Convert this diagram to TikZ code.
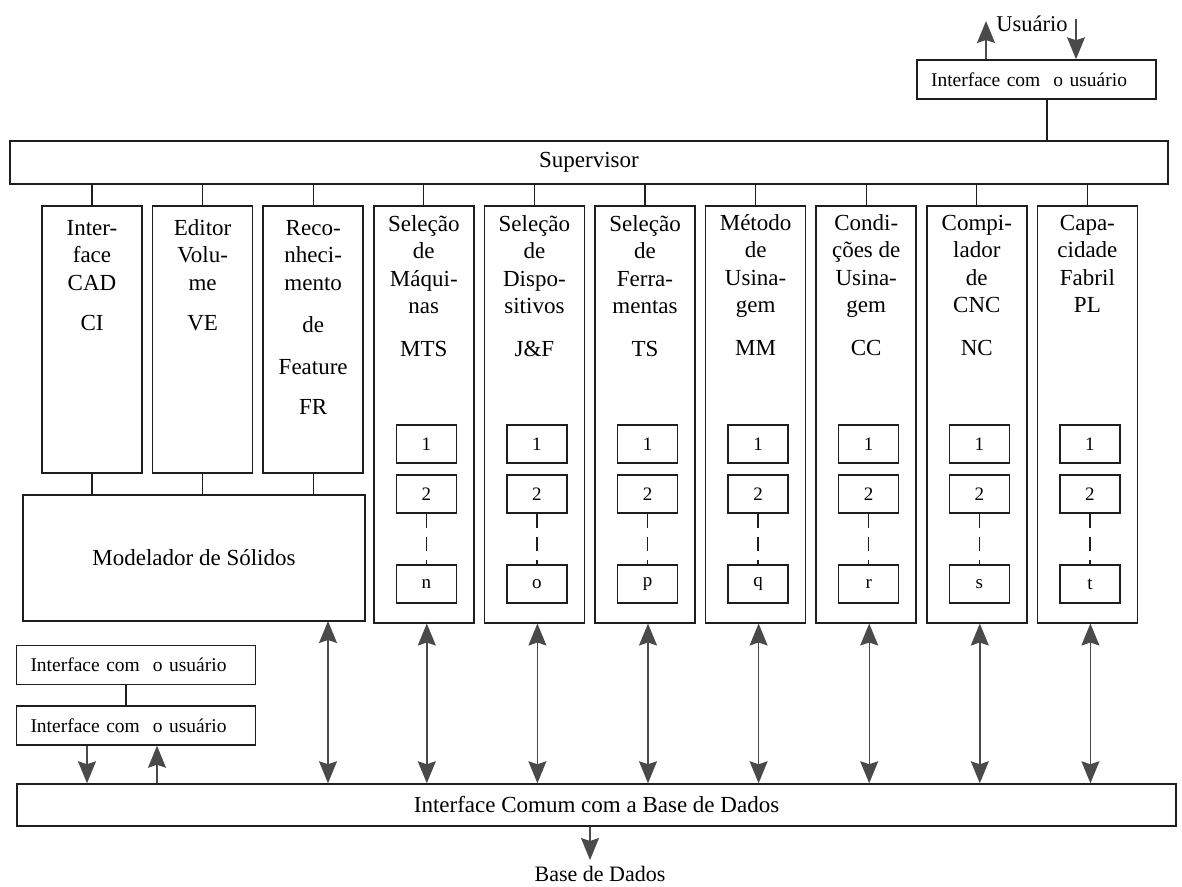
\documentclass[tikz,border=0pt]{standalone}
\usepackage{fontspec}
\setmainfont{Liberation Serif}
\usetikzlibrary{arrows.meta}
\definecolor{ink}{HTML}{1E1E1E}
\definecolor{tipgray}{HTML}{4A4A4A}
\begin{document}
\begin{tikzpicture}[x=1pt,y=-1pt,
  box/.style={draw=ink, line width=1.5pt, inner sep=0pt},
  big/.style={font=\fontsize{23}{27.5}\selectfont, inner sep=0pt},
  uibox/.style={box, font=\fontsize{19.5}{22}\selectfont, text width=211pt,
    align=left, inner xsep=14pt, minimum height=39pt},
  cell/.style={draw=ink, line width=1.3pt, minimum width=60pt, minimum height=38pt,
    inner sep=0pt, font=\fontsize{19}{21}\selectfont},
  link/.style={draw=ink, line width=1.3pt},
  dots/.style={draw=ink, line width=1.3pt, dash pattern=on 14pt off 9pt},
  tip/.style={Stealth[length=22pt, width=18pt, inset=3pt, fill=tipgray]},
  arr/.style={draw=tipgray, line width=1.4pt, -{Stealth[length=22pt, width=18pt, inset=3pt, fill=tipgray]}},
  biarrow/.style={draw=tipgray, line width=1.4pt,
    {Stealth[length=22pt, width=18pt, inset=3pt, fill=tipgray]}-{Stealth[length=22pt, width=18pt, inset=3pt, fill=tipgray]}}
]
\useasboundingbox (0,0) rectangle (1182,886);

% main bars
\node[box, big, minimum width=1158pt, minimum height=43pt] (sup) at (589,162.5) {Supervisor};
\node[box, big, minimum width=1159pt, minimum height=42pt] (db) at (596.5,805) {Interface Comum com a Base de Dados};

% user interface at the top
\node[uibox] (ui) at (1036.5,79.5) {Interface com\ \ o usuário};
\node[big, font=\fontsize{22.5}{25}\selectfont] (usr) at (1032,24) {Usuário};
\coordinate (uiout) at (986,21);
\coordinate (uiin) at (1076,19);
\draw[arr] (ui.north -| uiout) -- (uiout);
\draw[arr] (uiin) -- (ui.north -| uiin);
\coordinate (uisup) at (1047,99);
\draw[link] (ui.south -| uisup) -- (sup.north -| uisup);

% geometry modules
\node[box, minimum width=100pt, minimum height=267pt, anchor=north] (ci) at (92,205) {};
\node[box, minimum width=100pt, minimum height=267pt, anchor=north] (ve) at (202.6,205) {};
\node[box, minimum width=100pt, minimum height=267pt, anchor=north] (fr) at (313.2,205) {};
\node[box, big, minimum width=342pt, minimum height=126pt] (mod) at (194,558) {Modelador de Sólidos};
\foreach \c in {ci,ve,fr}{
  \draw[link] (\c.north |- sup.south) -- (\c.north);
  \draw[link] (\c.south) -- (\c.south |- mod.north);
}
\foreach \s [count=\k] in {Inter-,face,CAD}
  \node[big, anchor=base] (ci-\k) at (92,{235+27.5*(\k-1)}) {\s};
\node[big, anchor=base] (ci-ab) at (92,330) {CI};
\foreach \s [count=\k] in {Editor,Volu-,me}
  \node[big, anchor=base] (ve-\k) at (202.6,{235+27.5*(\k-1)}) {\s};
\node[big, anchor=base] (ve-ab) at (202.6,330) {VE};
\foreach \s [count=\k] in {Reco-,nheci-,mento}
  \node[big, anchor=base] (fr-\k) at (313.2,{235+27.5*(\k-1)}) {\s};
\node[big, anchor=base] (fr-4) at (313.2,332) {de};
\node[big, anchor=base] (fr-5) at (313.2,374) {Feature};
\node[big, anchor=base] (fr-ab) at (313.2,414) {FR};

% process modules with their internal lists
\foreach \i/\nm/\last in {3/mts/n,4/jf/o,5/ts/p,6/mm/q,7/cc/r,8/nc/s,9/pl/t}{
  \pgfmathsetmacro\cx{92+110.6*\i}
  \node[box, minimum width=100pt, minimum height=417pt, anchor=north] (\nm) at (\cx,205) {};
  \draw[link] (\nm.north |- sup.south) -- (\nm.north);
  \node[cell] (\nm-a) at (\cx+2.5,444) {1};
  \node[cell] (\nm-b) at (\cx+2.5,494) {2};
  \node[cell] (\nm-c) at (\cx+2.5,584) {\last};
  \draw[dots] (\nm-b.south) -- (\nm-c.north);
  \coordinate (\nm-s) at ([xshift=3pt]\nm.south);
  \draw[biarrow] (\nm-s) -- (\nm-s |- db.north);
}
\foreach \s [count=\k] in {Seleção,de,Máqui-,nas}
  \node[big, anchor=base] (mts-t\k) at (423.8,{231+27.5*(\k-1)}) {\s};
\node[big, anchor=base] (mts-ab) at (423.8,356) {MTS};
\foreach \s [count=\k] in {Seleção,de,Dispo-,sitivos}
  \node[big, anchor=base] (jf-t\k) at (534.4,{231+27.5*(\k-1)}) {\s};
\node[big, anchor=base] (jf-ab) at (534.4,356) {J\&F};
\foreach \s [count=\k] in {Seleção,de,Ferra-,mentas}
  \node[big, anchor=base] (ts-t\k) at (645,{231+27.5*(\k-1)}) {\s};
\node[big, anchor=base] (ts-ab) at (645,356) {TS};
\foreach \s [count=\k] in {Método,de,Usina-,gem}
  \node[big, anchor=base] (mm-t\k) at (755.6,{230+27.5*(\k-1)}) {\s};
\node[big, anchor=base] (mm-ab) at (755.6,355) {MM};
\foreach \s [count=\k] in {Condi-,ções de,Usina-,gem}
  \node[big, anchor=base] (cc-t\k) at (866.2,{230+27.5*(\k-1)}) {\s};
\node[big, anchor=base] (cc-ab) at (866.2,355) {CC};
\foreach \s [count=\k] in {Compi-,lador,de,CNC}
  \node[big, anchor=base] (nc-t\k) at (976.8,{230+27.5*(\k-1)}) {\s};
\node[big, anchor=base] (nc-ab) at (976.8,355) {NC};
\foreach \s [count=\k] in {Capa-,cidade,Fabril,PL}
  \node[big, anchor=base] (pl-t\k) at (1087.4,{230+27.5*(\k-1)}) {\s};

% solid modeller link to the database interface
\coordinate (mod-s) at (328,621);
\draw[biarrow] (mod-s) -- (mod-s |- db.north);

% user interfaces at the lower left
\node[uibox] (iu1) at (136,665) {Interface com\ \ o usuário};
\node[uibox] (iu2) at (136,725.5) {Interface com\ \ o usuário};
\coordinate (iulink) at (126,700);
\draw[link] (iu1.south -| iulink) -- (iu2.north -| iulink);
\coordinate (iudown) at (87,760);
\coordinate (iuup) at (157,760);
\draw[arr] (iu2.south -| iudown) -- (db.north -| iudown);
\draw[arr] (db.north -| iuup) -- (iu2.south -| iuup);

% database
\node[big, font=\fontsize{22}{25}\selectfont, anchor=base] (bd) at (600,881) {Base de Dados};
\coordinate (dbout) at (590,860);
\draw[arr] (db.south -| dbout) -- (dbout);
\end{tikzpicture}
\end{document}
